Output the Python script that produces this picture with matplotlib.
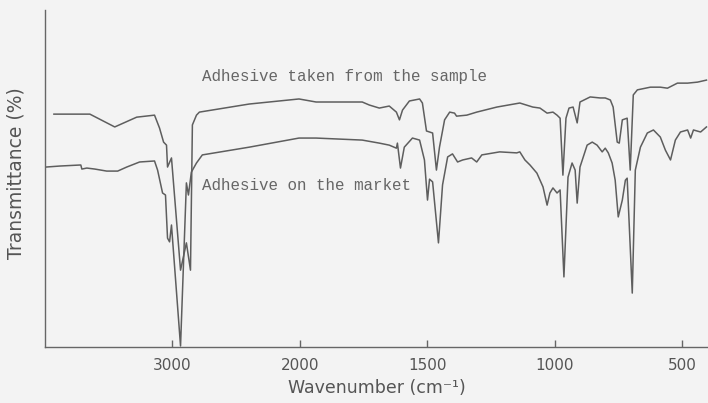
import numpy as np
import matplotlib
matplotlib.use("Agg")
import matplotlib.pyplot as plt

# IR spectra (wavenumber in cm-1, transmittance in arbitrary %)
sample_wn = [3930, 3648, 3453, 3281, 3141, 3102, 3070, 3047, 3039, 3008, 2937, 2891, 2859,
             2844, 2812, 2789, 2398, 2008, 1937, 1756, 1728, 1689, 1650, 1622, 1610, 1598,
             1571, 1531, 1520, 1504, 1492, 1480, 1465, 1453, 1433, 1413, 1394, 1386, 1346,
             1307, 1228, 1138, 1087, 1059, 1031, 1008, 992, 980, 969, 957, 945, 929, 913,
             902, 862, 823, 803, 783, 772, 756, 748, 736, 717, 705, 693, 677, 626, 587, 559,
             520, 480, 441, 406]
sample_t = [69.1, 69.1, 65.3, 68.2, 68.8, 65.0, 60.8, 59.9, 53.4, 56.1, 22.8, 30.9, 22.8,
            65.9, 68.8, 69.7, 72.1, 73.6, 72.7, 72.7, 71.8, 70.9, 71.5, 69.7, 67.4, 70.3,
            73.0, 73.6, 72.4, 64.1, 63.8, 63.5, 52.5, 59.3, 67.4, 69.7, 69.4, 68.5, 68.8,
            69.7, 71.2, 72.4, 71.2, 70.9, 69.4, 69.7, 68.8, 67.9, 51.0, 67.9, 70.9, 71.2, 66.5,
            72.7, 74.2, 73.9, 73.9, 73.3, 71.2, 60.8, 60.5, 67.4, 67.9, 52.5, 74.8, 76.3, 77.1, 77.1, 76.8,
            78.3, 78.3, 78.6, 79.2]

market_wn = [3992, 3883, 3727, 3719, 3711, 3672, 3609, 3516, 3430, 3359, 3258, 3141, 3117,
             3078, 3055, 3039, 3023, 3008, 2937, 2891, 2875, 2852, 2812, 2766, 2398, 2008,
             1937, 1756, 1689, 1650, 1622, 1618, 1606, 1591, 1559, 1531, 1512, 1500, 1492,
             1480, 1457, 1441, 1421, 1402, 1382, 1362, 1327, 1307, 1287, 1217, 1150, 1138,
             1118, 1098, 1071, 1047, 1031, 1020, 1008, 992, 980, 965, 949, 933, 921, 913, 902,
             874, 854, 835, 815, 803, 791, 776, 764, 752, 736, 724, 717, 697, 685, 665, 638,
             614, 587, 567, 547, 528, 508, 480, 468, 457, 429, 406]
market_t = [53.4, 53.7, 54.0, 54.0, 52.8, 53.1, 52.8, 52.2, 52.2, 53.4, 54.9, 55.2, 52.5,
            45.7, 45.1, 32.3, 31.2, 36.2, 0.3, 48.7, 45.1, 51.9, 54.6, 57.0, 59.3, 62.0,
            62.0, 61.4, 60.5, 59.9, 59.0, 60.5, 53.1, 59.3, 62.0, 61.4, 55.5, 43.6, 49.8,
            49.0, 30.9, 48.1, 56.4, 57.3, 54.9, 55.5, 56.1, 54.9, 57.0, 57.9, 57.6, 57.9,
            55.5, 54.0, 51.6, 47.5, 42.1, 45.7, 47.2, 45.7, 46.6, 20.8, 50.4, 54.6, 52.5, 42.7, 53.4,
            59.9, 60.8, 59.9, 57.9, 59.0, 57.6, 54.6, 49.5, 38.6, 43.6, 49.5, 50.1, 16.0, 52.5, 59.3, 63.5,
            64.4, 62.3, 58.4, 55.5, 61.4, 63.8, 64.4, 62.0, 64.4, 63.8, 65.3]

tick_wn = [3000, 2000, 1500, 1000, 500]


# usual IR chart: scale above 2000 cm-1 is half of the one below
def fwd(w):
    w = np.asarray(w, dtype=float)
    return np.where(w > 2000, 2000 + (w - 2000) / 2.0, w)


def inv(u):
    u = np.asarray(u, dtype=float)
    return np.where(u > 2000, 2000 + (u - 2000) * 2.0, u)


gray = "#5e5e5e"
fig = plt.figure(figsize=(7.08, 4.03), dpi=100, facecolor="#f3f3f3")
ax = fig.add_axes([45 / 708, 56 / 403, 663 / 708, 337 / 403])
ax.set_facecolor("#f3f3f3")

ax.plot(sample_wn, sample_t, color=gray, lw=1.1)
ax.plot(market_wn, market_t, color=gray, lw=1.1)

ax.set_xscale("function", functions=(fwd, inv))
ax.set_xlim(4000, 400)
ax.set_ylim(0, 100)
ax.set_xticks(tick_wn)
ax.set_xticklabels([str(t) for t in tick_wn])
ax.set_yticks([])
ax.tick_params(axis="x", direction="in", length=5, width=1, color="#666666",
               labelsize=11, labelcolor="#555555", pad=8)
ax.minorticks_off()

for s in ["top", "right"]:
    ax.spines[s].set_visible(False)
for s in ["left", "bottom"]:
    ax.spines[s].set_color("#666666")
    ax.spines[s].set_linewidth(1.0)

ax.set_xlabel("Wavenumber (cm⁻¹)", fontsize=12.5, color="#555555", labelpad=4)
ax.set_ylabel("Transmittance (%)", fontsize=13.5, color="#555555")
ax.yaxis.set_label_coords(-0.029, 0.515)

ax.text(2766, 80.4, "Adhesive taken from the sample", family="Liberation Mono",
        fontsize=11.4, color="#666666", va="center", ha="left")
ax.text(2766, 47.8, "Adhesive on the market", family="Liberation Mono",
        fontsize=11.4, color="#666666", va="center", ha="left")

fig.savefig("out.png", dpi=100, facecolor=fig.get_facecolor())
